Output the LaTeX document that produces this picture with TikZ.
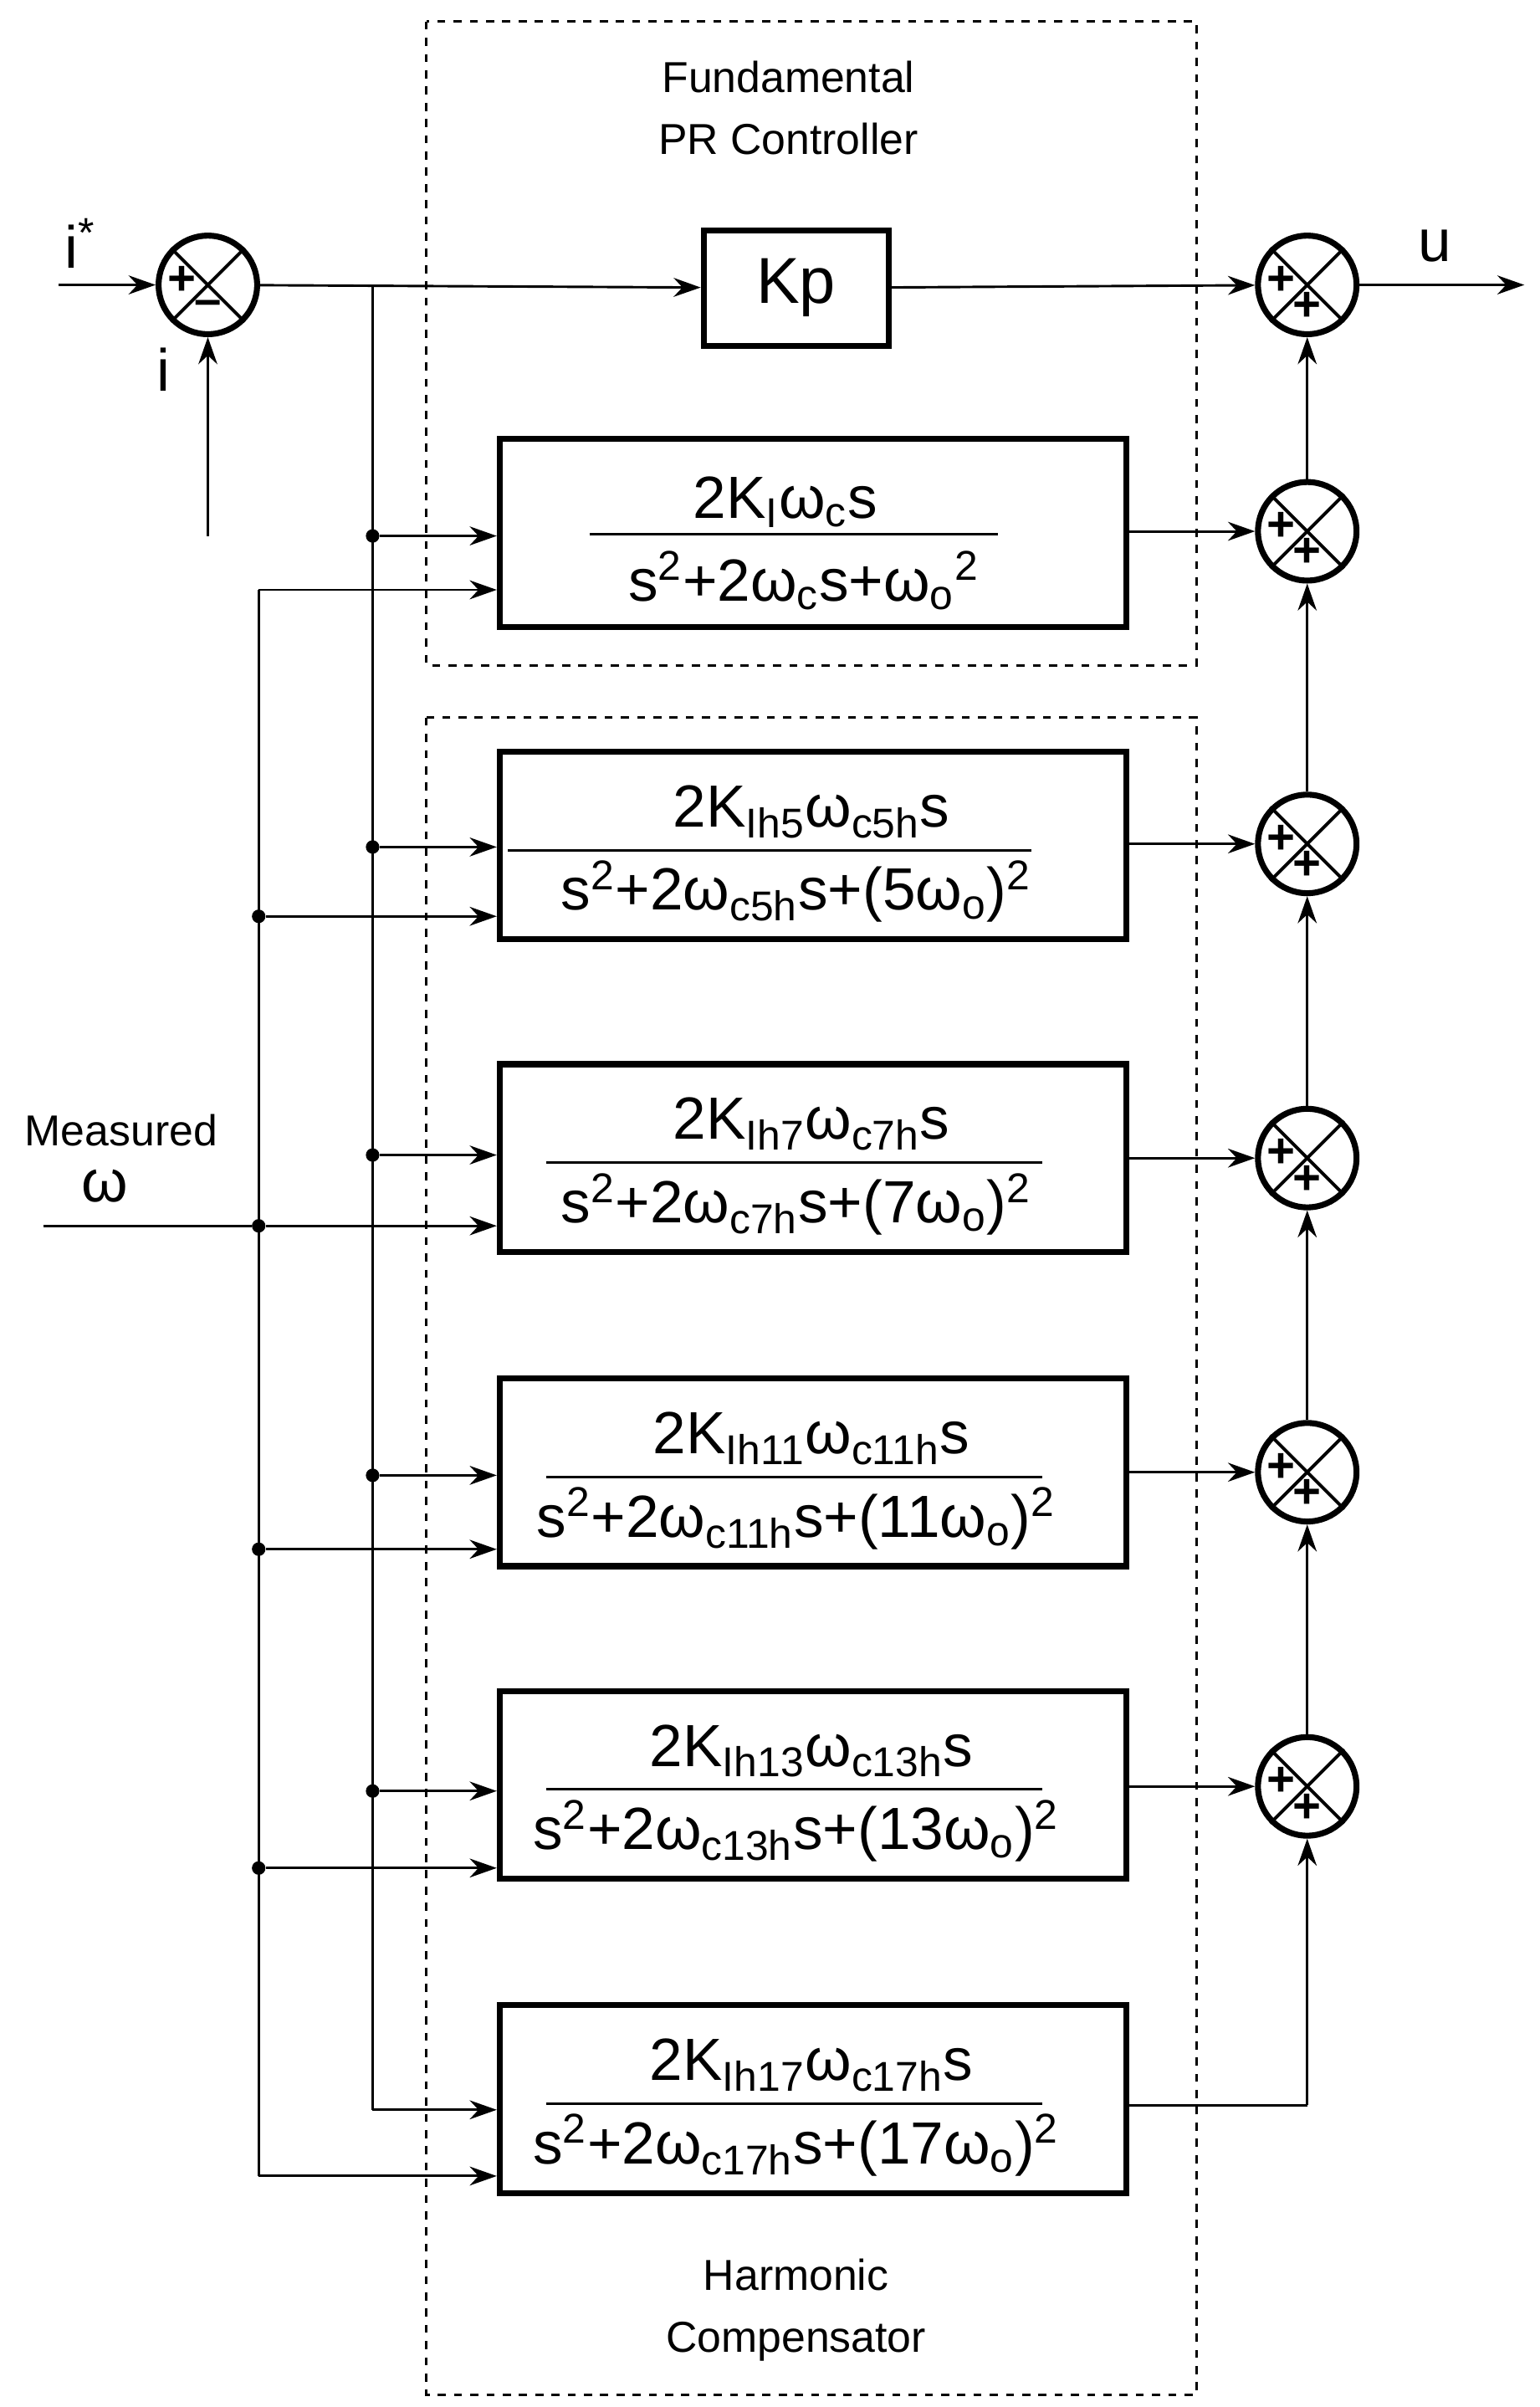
\documentclass[tikz,border=0pt]{standalone}
\usepackage{fontspec}
\setmainfont{Liberation Sans}
\usetikzlibrary{arrows.meta}
\newcommand{\lo}[1]{\textsubscript{#1}}
\newcommand{\up}[1]{\textsuperscript{#1}}
\begin{document}
\begin{tikzpicture}[x=0.02cm,y=-0.02cm,
  ln/.style={line width=0.9pt},
  ar/.style={ln,-{Stealth[length=10pt,width=7pt]}},
  blk/.style={draw,line width=2.2pt,minimum width=8.14cm,minimum height=2.44cm,inner sep=0pt},
  sum/.style={draw,circle,line width=2.2pt,minimum size=1.28cm,inner sep=0pt},
  dbox/.style={draw,dashed,line width=1pt},
  dot/.style={circle,fill,inner sep=0pt,minimum size=5pt},
  lbl/.style={font=\fontsize{16}{19}\selectfont},
  frac/.style={font=\fontsize{22}{26}\selectfont}]
\useasboundingbox (0,0) rectangle (1000,1563);
\draw[dbox] (277,14) rectangle (777,432);
\draw[dbox] (277,466) rectangle (777,1555);
\node[lbl,align=center] (t1) at (512,70) {Fundamental\\[4pt]PR Controller};
\node[lbl,align=center] (t2) at (517,1500) {Harmonic\\[4pt]Compensator};
% sums
\foreach \n/\y in {s0/185,o0/185,o1/345,o2/548,o3/752,o4/956,o5/1160}{}
\node[sum] (s0) at (135,185) {};
\draw[line width=1.2pt] (s0.north west)--(s0.south east) (s0.north east)--(s0.south west);
\node[font=\fontsize{18}{20}\selectfont\bfseries] (s0p) at (118,182) {+};
\node[font=\fontsize{18}{20}\selectfont\bfseries] (s0m) at (135,200) {–};
\foreach \n/\y in {o0/185,o1/345,o2/548,o3/752,o4/956,o5/1160}{
  \node[sum] (\n) at (849,\y) {};
  \draw[line width=1.2pt] (\n.north west)--(\n.south east) (\n.north east)--(\n.south west);
  \node[font=\fontsize{18}{20}\selectfont\bfseries] (\n p) at (832,\y-3) {+};
  \node[font=\fontsize{18}{20}\selectfont\bfseries] (\n q) at (849,\y+14) {+};
}
% inputs
\coordinate (istar) at (38,185);
\coordinate (ibot) at (135,348);
\draw[ar] (istar)--(s0);
\draw[ar] (ibot)--(s0);
\node[lbl,font=\fontsize{22}{24}\selectfont] (li) at (52,158) {i\up{*}};
\node[lbl,font=\fontsize{22}{24}\selectfont] (li2) at (106,240) {i};
% Kp
\node[draw,line width=2.2pt,minimum width=2.4cm,minimum height=1.5cm,font=\fontsize{24}{26}\selectfont] (kp) at (517,187) {Kp};
\draw[ar] (s0)--(kp);
\draw[ar] (kp)--(o0);
\coordinate (uend) at (990,185);
\draw[ar] (o0)--(uend);
\node[font=\fontsize{22}{24}\selectfont] (lu) at (932,160) {u};
% blocks
\node[blk] (b1) at (528,346) {};
\node[blk] (b2) at (528,549) {};
\node[blk] (b3) at (528,752) {};
\node[blk] (b4) at (528,956) {};
\node[blk] (b5) at (528,1159) {};
\node[blk] (b6) at (528,1363) {};
% fractions
\node[frac] (n1) at (510,326) {2K\lo{I}ω\lo{c}s};
\draw[ln] (383,347)--(648,347);
\node[frac] (d1) at (522,377) {s\up{2}+2ω\lo{c}s+ω\lo{o}\up{2}};
\foreach \b/\h/\yy/\wl/\wr in {b2/5/549/330/670,b3/7/752/355/677,b4/11/956/355/677,b5/13/1159/355/677,b6/17/1363/355/677}{
  \node[frac] (\b n) at (527,\yy-22) {2K\lo{Ih\h}ω\lo{c\h h}s};
  \draw[ln] (\wl,\yy+3)--(\wr,\yy+3);
  \node[frac] (\b d) at (517,\yy+30) {s\up{2}+2ω\lo{c\h h}s+(\h ω\lo{o})\up{2}};
}
% error bus
\coordinate (ea) at (242,185);
\coordinate (eb) at (242,1370);
\draw[ln] (ea)--(eb);
\foreach \y/\b in {348/b1,550/b2,750/b3,958/b4,1163/b5}{
  \node[dot] (e\y) at (242,\y) {};
  \draw[ar] (e\y)--(\b.west|-e\y);
}
\draw[ar] (eb)--(b6.west|-eb);
% omega bus
\coordinate (wa) at (168,383);
\coordinate (wb) at (168,1413);
\draw[ln] (wa)--(wb);
\draw[ar] (wa)--(b1.west|-wa);
\draw[ar] (wb)--(b6.west|-wb);
\foreach \y/\b in {595/b2,796/b3,1006/b4,1213/b5}{
  \node[dot] (w\y) at (168,\y) {};
  \draw[ar] (w\y)--(\b.west|-w\y);
}
\coordinate (win) at (28,796);
\draw[ln] (win)--(w796);
\node[lbl,align=left,anchor=west] (meas) at (10,734) {Measured};
\node[font=\fontsize{22}{24}\selectfont] (om) at (68,770) {ω};
% block outputs
\draw[ar] (b1.east|-o1)--(o1);
\draw[ar] (b2.east|-o2)--(o2);
\draw[ar] (b3.east|-o3)--(o3);
\draw[ar] (b4.east|-o4)--(o4);
\draw[ar] (b5.east|-o5)--(o5);
\coordinate (c6) at (849,1367);
\draw[ln] (b6.east|-c6)--(c6);
\draw[ar] (c6)--(o5);
\draw[ar] (o5)--(o4);
\draw[ar] (o4)--(o3);
\draw[ar] (o3)--(o2);
\draw[ar] (o2)--(o1);
\draw[ar] (o1)--(o0);
\end{tikzpicture}
\end{document}
